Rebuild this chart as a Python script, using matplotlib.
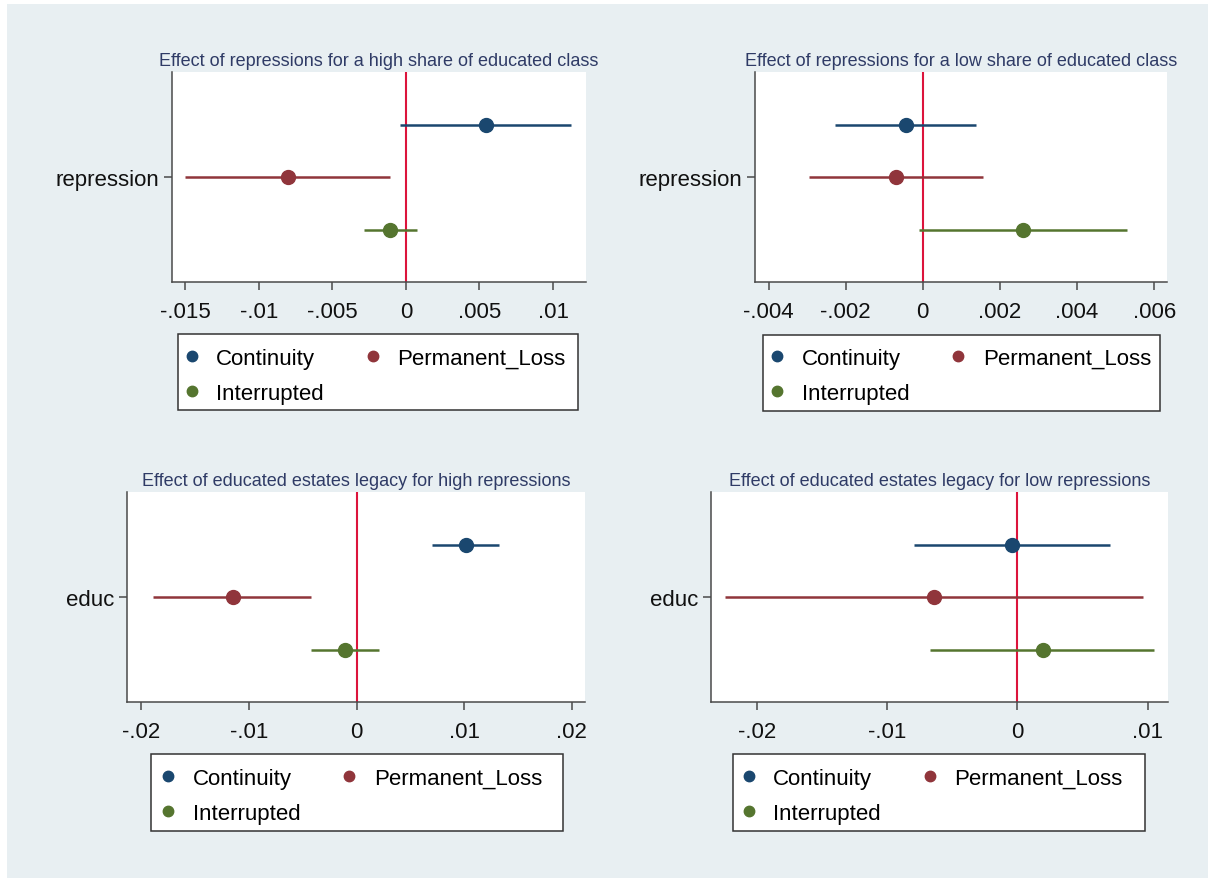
import matplotlib.pyplot as plt
from matplotlib.lines import Line2D
from matplotlib.patches import Rectangle

W, H = 1208, 879

series = ['Continuity', 'Permanent_Loss', 'Interrupted']
colors = ['#1a476f', '#90353b', '#55752f']

# panel 1: repressions, high share of educated class
rep_high_coef = [0.00544, -0.0080, -0.00109]
rep_high_lo = [-0.00041, -0.01503, -0.00286]
rep_high_hi = [0.01122, -0.00109, 0.00073]

# panel 2: repressions, low share of educated class
rep_low_coef = [-0.00043, -0.0007, 0.0026]
rep_low_lo = [-0.00227, -0.00296, -0.0001]
rep_low_hi = [0.00138, 0.00157, 0.0053]

# panel 3: educated estates legacy, high repressions
educ_high_coef = [0.01017, -0.01153, -0.00105]
educ_high_lo = [0.00703, -0.01891, -0.00425]
educ_high_hi = [0.01327, -0.00422, 0.0021]

# panel 4: educated estates legacy, low repressions
educ_low_coef = [-0.00041, -0.00639, 0.00192]
educ_low_lo = [-0.0079, -0.02243, -0.0067]
educ_low_hi = [0.00711, 0.00959, 0.01049]

titles = ['Effect of repressions for a high share of educated class',
          'Effect of repressions for a low share of educated class',
          'Effect of educated estates legacy for high repressions',
          'Effect of educated estates legacy for low repressions']
ylabels = ['repression', 'repression', 'educ', 'educ']

ticks1 = [-0.015, -0.01, -0.005, 0, 0.005, 0.01]
labels1 = ['-.015', '-.01', '-.005', '0', '.005', '.01']
ticks2 = [-0.004, -0.002, 0, 0.002, 0.004, 0.006]
labels2 = ['-.004', '-.002', '0', '.002', '.004', '.006']
ticks3 = [-0.02, -0.01, 0, 0.01, 0.02]
labels3 = ['-.02', '-.01', '0', '.01', '.02']
ticks4 = [-0.02, -0.01, 0, 0.01]
labels4 = ['-.02', '-.01', '0', '.01']

panels = [
    (rep_high_coef, rep_high_lo, rep_high_hi, ticks1, labels1, (-0.0159, 0.01224)),
    (rep_low_coef, rep_low_lo, rep_low_hi, ticks2, labels2, (-0.00435, 0.00633)),
    (educ_high_coef, educ_high_lo, educ_high_hi, ticks3, labels3, (-0.02134, 0.02124)),
    (educ_low_coef, educ_low_lo, educ_low_hi, ticks4, labels4, (-0.0235, 0.01154)),
]

# layout in pixels: plot area (x0, y0, x1, y1), legend box, legend anchor
plot_px = [(172, 73, 586, 283), (755, 73, 1167, 283),
           (127, 493, 585, 703), (711, 493, 1168, 703)]
box_px = [(178, 335, 578, 411), (763, 336, 1160, 412),
          (151, 755, 563, 832), (733, 755, 1145, 832)]
anchor_px = [(183, 377), (768.5, 377), (159.5, 797), (740, 797)]
offsets = [-0.25, 0, 0.25]

plt.rcParams['font.family'] = ['Liberation Sans', 'DejaVu Sans']

fig = plt.figure(figsize=(W / 100, H / 100), dpi=100, facecolor='white')
fig.patches.append(Rectangle((7 / W, 0), 1 - 7 / W, 1 - 5 / H, transform=fig.transFigure,
                             facecolor='#e8eff2', edgecolor='none', zorder=-10))

handles = [Line2D([], [], marker='o', ls='none', color=c, markersize=7.5) for c in colors]
# column-major ordering gives rows: Continuity | Permanent_Loss / Interrupted
order = [0, 2, 1]

for i, (coef, lo, hi, ticks, tlabels, xlim) in enumerate(panels):
    x0, y0, x1, y1 = plot_px[i]
    ax = fig.add_axes([x0 / W, 1 - y1 / H, (x1 - x0) / W, (y1 - y0) / H])
    ax.set_facecolor('white')
    for s in ['top', 'right']:
        ax.spines[s].set_visible(False)
    for s in ['left', 'bottom']:
        ax.spines[s].set_color('#4a4a4a')
        ax.spines[s].set_linewidth(1.1)

    ax.axvline(0, color='#dc143c', lw=1.5, zorder=1)
    for j in range(3):
        y = 1 + offsets[j]
        ax.plot([lo[j], hi[j]], [y, y], color=colors[j], lw=1.8, solid_capstyle='butt', zorder=2)
        ax.plot(coef[j], y, 'o', color=colors[j], markersize=10, zorder=3)

    ax.set_xlim(*xlim)
    ax.set_ylim(1.5, 0.5)
    ax.set_xticks(ticks)
    ax.set_xticklabels(tlabels)
    ax.set_yticks([1])
    ax.set_yticklabels([ylabels[i]])
    ax.tick_params(axis='both', labelsize=16, length=6, width=1.1, color='#4a4a4a',
                   labelcolor='#111111')
    ax.tick_params(axis='x', pad=7.5)
    ax.tick_params(axis='y', pad=3)
    ax.set_title(titles[i], fontsize=13, color='#2f3b66', pad=5)

    bx0, by0, bx1, by1 = box_px[i]
    fig.patches.append(Rectangle((bx0 / W, 1 - by1 / H), (bx1 - bx0) / W, (by1 - by0) / H,
                                 transform=fig.transFigure, facecolor='white',
                                 edgecolor='#333333', lw=1.1, zorder=1))
    ax_, ay_ = anchor_px[i]
    fig.legend([handles[k] for k in order], [series[k] for k in order],
               loc='center left', bbox_to_anchor=(ax_ / W, 1 - ay_ / H), ncol=2,
               frameon=False, fontsize=16, borderpad=0, borderaxespad=0,
               handlelength=0.8, handletextpad=0.7, columnspacing=1.8, labelspacing=0.63)

fig.savefig('out.png', dpi=100, facecolor='white')
